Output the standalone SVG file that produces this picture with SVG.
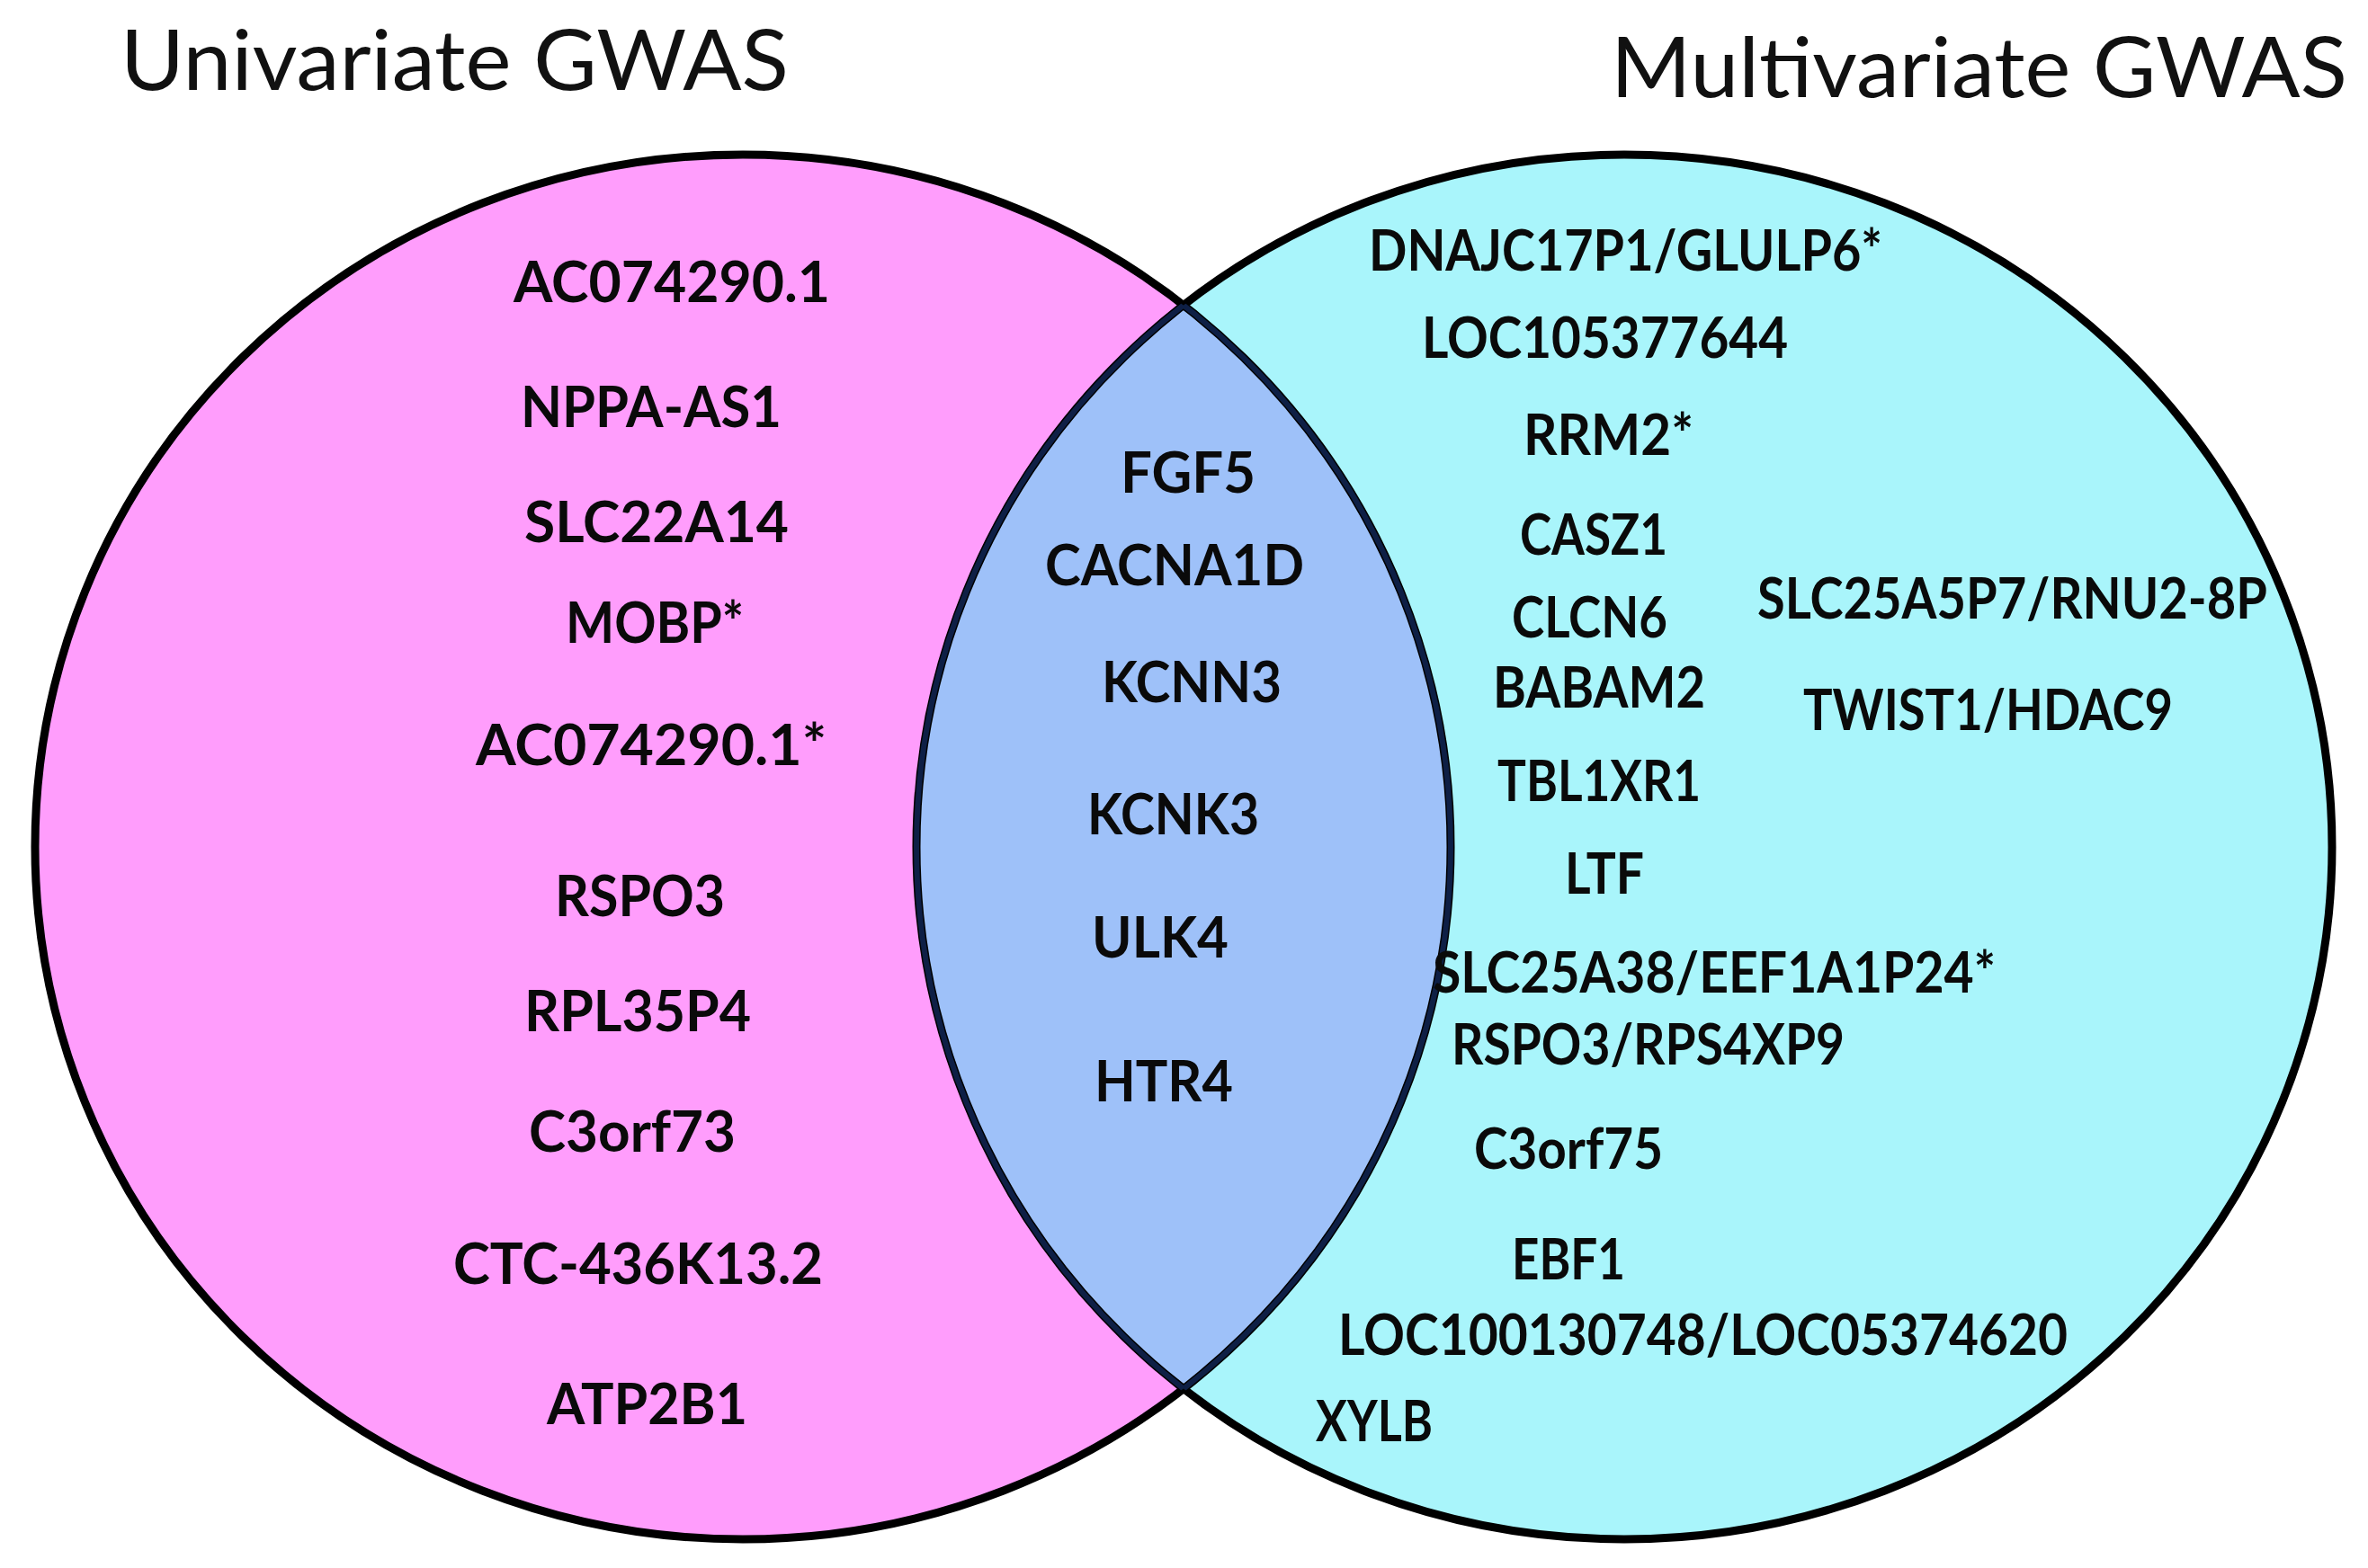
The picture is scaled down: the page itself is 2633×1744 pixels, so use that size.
<svg xmlns="http://www.w3.org/2000/svg" width="2633" height="1744" viewBox="0 0 2633 1744">
<style>
.title{font-family:Lato,"Liberation Sans",sans-serif;font-size:93px;fill:#111;}
.lbl{font-family:Lato,"Liberation Sans",sans-serif;font-weight:bold;font-size:63px;fill:#0a0a0a;}
.outer{fill:none;stroke:#000;stroke-width:9;}
.inner{fill:none;stroke:#0e1f45;stroke-width:6;}
</style>
<defs>
<clipPath id="clipL"><ellipse cx="826" cy="942" rx="787" ry="770"/></clipPath>
<clipPath id="clipR"><ellipse cx="1806" cy="942" rx="787" ry="770"/></clipPath>
</defs>
<rect width="2633" height="1744" fill="#ffffff"/>
<g id="set-univariate">
<ellipse cx="826" cy="942" rx="787" ry="770" fill="#ff9dfc"/>
</g>
<g id="set-multivariate">
<ellipse cx="1806" cy="942" rx="787" ry="770" fill="#a9f5fb"/>
</g>
<g id="set-overlap">
<ellipse cx="1806" cy="942" rx="787" ry="770" fill="#9ec1f9" clip-path="url(#clipL)"/>
</g>
<g id="outlines">
<ellipse class="outer" cx="826" cy="942" rx="787" ry="770"/>
<ellipse class="outer" cx="1806" cy="942" rx="787" ry="770"/>
<ellipse class="inner" cx="826" cy="942" rx="787" ry="770" clip-path="url(#clipR)"/>
<ellipse class="inner" cx="1806" cy="942" rx="787" ry="770" clip-path="url(#clipL)"/>
</g>
<g id="connectors"/>
<g id="titles">
<text id="title-univariate" class="title" x="134" y="100" textLength="743" lengthAdjust="spacingAndGlyphs">Univariate GWAS</text>
<text id="title-multivariate" class="title" x="1791" y="108" textLength="819" lengthAdjust="spacingAndGlyphs">Multivariate GWAS</text>
</g>
<g id="labels-univariate">
<text class="lbl" x="571" y="336" textLength="352" lengthAdjust="spacingAndGlyphs">AC074290.1</text>
<text class="lbl" x="579" y="475" textLength="290" lengthAdjust="spacingAndGlyphs">NPPA-AS1</text>
<text class="lbl" x="583" y="603" textLength="294" lengthAdjust="spacingAndGlyphs">SLC22A14</text>
<text class="lbl" x="629" y="715" textLength="198" lengthAdjust="spacingAndGlyphs">MOBP*</text>
<text class="lbl" x="529" y="851" textLength="390" lengthAdjust="spacingAndGlyphs">AC074290.1*</text>
<text class="lbl" x="617" y="1019" textLength="189" lengthAdjust="spacingAndGlyphs">RSPO3</text>
<text class="lbl" x="583" y="1147" textLength="252" lengthAdjust="spacingAndGlyphs">RPL35P4</text>
<text class="lbl" x="588" y="1281" textLength="230" lengthAdjust="spacingAndGlyphs">C3orf73</text>
<text class="lbl" x="504" y="1428" textLength="411" lengthAdjust="spacingAndGlyphs">CTC-436K13.2</text>
<text class="lbl" x="608" y="1584" textLength="223" lengthAdjust="spacingAndGlyphs">ATP2B1</text>
</g>
<g id="labels-overlap">
<text class="lbl" x="1246" y="548" textLength="150" lengthAdjust="spacingAndGlyphs">FGF5</text>
<text class="lbl" x="1162" y="651" textLength="288" lengthAdjust="spacingAndGlyphs">CACNA1D</text>
<text class="lbl" x="1225" y="781" textLength="200" lengthAdjust="spacingAndGlyphs">KCNN3</text>
<text class="lbl" x="1209" y="928" textLength="191" lengthAdjust="spacingAndGlyphs">KCNK3</text>
<text class="lbl" x="1214" y="1065" textLength="152" lengthAdjust="spacingAndGlyphs">ULK4</text>
<text class="lbl" x="1217" y="1225" textLength="154" lengthAdjust="spacingAndGlyphs">HTR4</text>
</g>
<g id="labels-multivariate">
<text class="lbl" x="1522" y="301" textLength="571" lengthAdjust="spacingAndGlyphs">DNAJC17P1/GLULP6*</text>
<text class="lbl" x="1581" y="398" textLength="407" lengthAdjust="spacingAndGlyphs">LOC105377644</text>
<text class="lbl" x="1694" y="506" textLength="189" lengthAdjust="spacingAndGlyphs">RRM2*</text>
<text class="lbl" x="1690" y="617" textLength="164" lengthAdjust="spacingAndGlyphs">CASZ1</text>
<text class="lbl" x="1681" y="709" textLength="173" lengthAdjust="spacingAndGlyphs">CLCN6</text>
<text class="lbl" x="1954" y="688" textLength="567" lengthAdjust="spacingAndGlyphs">SLC25A5P7/RNU2-8P</text>
<text class="lbl" x="1660" y="787" textLength="236" lengthAdjust="spacingAndGlyphs">BABAM2</text>
<text class="lbl" x="2005" y="812" textLength="411" lengthAdjust="spacingAndGlyphs">TWIST1/HDAC9</text>
<text class="lbl" x="1665" y="891" textLength="226" lengthAdjust="spacingAndGlyphs">TBL1XR1</text>
<text class="lbl" x="1740" y="994" textLength="88" lengthAdjust="spacingAndGlyphs">LTF</text>
<text class="lbl" x="1593" y="1104" textLength="626" lengthAdjust="spacingAndGlyphs">SLC25A38/EEF1A1P24*</text>
<text class="lbl" x="1614" y="1184" textLength="437" lengthAdjust="spacingAndGlyphs">RSPO3/RPS4XP9</text>
<text class="lbl" x="1639" y="1300" textLength="210" lengthAdjust="spacingAndGlyphs">C3orf75</text>
<text class="lbl" x="1681" y="1423" textLength="126" lengthAdjust="spacingAndGlyphs">EBF1</text>
<text class="lbl" x="1488" y="1507" textLength="811" lengthAdjust="spacingAndGlyphs">LOC100130748/LOC05374620</text>
<text class="lbl" x="1463" y="1603" textLength="130" lengthAdjust="spacingAndGlyphs">XYLB</text>
</g>
</svg>
